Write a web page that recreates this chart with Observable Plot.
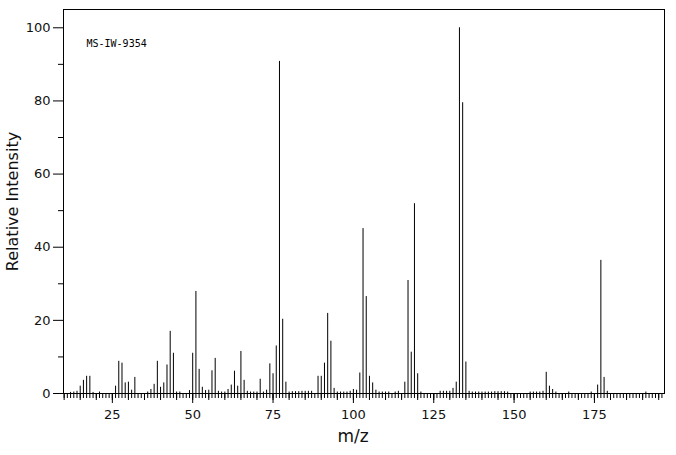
<!DOCTYPE html>
<html>
<head>
<meta charset="utf-8">
<script src="https://cdn.jsdelivr.net/npm/d3@7"></script>
<script src="https://cdn.jsdelivr.net/npm/@observablehq/plot@0.6"></script>
<style>
  html, body { margin: 0; padding: 0; background: #fff; }
</style>
</head>
<body>
<div id="chart"></div>
<script>
const sampleId = "MS-IW-9354";
const xLabel = "m/z";
const yLabel = "Relative Intensity";

const mzValues = [
  12, 13, 14, 15, 16, 17, 18, 19, 21, 26, 27, 28, 29, 30, 31, 32,
  36, 37, 38, 39, 40, 41, 42, 43, 44, 45, 46, 49, 50, 51, 52, 53, 54, 55,
  56, 57, 58, 59, 60, 61, 62, 63, 64, 65, 66, 67, 68, 69, 70, 71, 72, 73,
  74, 75, 76, 77, 78, 79, 80, 81, 82, 83, 84, 85, 86, 87, 89, 90, 91, 92,
  93, 94, 95, 96, 97, 98, 99, 100, 101, 102, 103, 104, 105, 106, 107, 108,
  109, 110, 111, 113, 114, 116, 117, 118, 119, 120, 121, 127, 128, 129, 130,
  131, 132, 133, 134, 135, 136, 137, 138, 139, 140, 141, 142, 143, 144, 145,
  146, 147, 148, 155, 156, 157, 158, 159, 160, 161, 162, 163, 167, 174, 176,
  177, 178, 179, 191
];
const intensityValues = [
  0.3, 0.4, 0.6, 2.0, 3.6, 4.7, 4.7, 0.3, 0.4, 2.0, 8.8, 8.3, 2.9, 3.1, 0.9, 4.4,
  0.4, 1.1, 2.5, 8.8, 1.7, 2.9, 7.8, 17.0, 11.0, 0.4, 0.4, 0.8, 11.0, 27.9, 6.6, 1.7, 0.8, 0.9,
  6.2, 9.6, 0.6, 0.4, 0.4, 1.1, 2.3, 6.1, 2.0, 11.5, 3.6, 0.6, 0.4, 0.4, 0.4, 3.9, 0.4, 0.9,
  8.1, 5.4, 13.0, 90.8, 20.3, 3.1, 0.4, 0.5, 0.5, 0.5, 0.6, 0.6, 0.6, 0.6, 4.7, 4.7, 8.3, 21.9,
  14.3, 1.4, 0.4, 0.4, 0.4, 0.4, 0.6, 1.1, 0.9, 5.6, 45.1, 26.5, 4.7, 2.9, 0.9, 0.4,
  0.4, 0.4, 0.4, 0.4, 0.6, 3.1, 30.9, 11.3, 51.9, 5.4, 0.4, 0.6, 0.6, 0.6, 0.6,
  1.4, 3.1, 100, 79.5, 8.6, 0.6, 0.4, 0.4, 0.4, 0.4, 0.4, 0.4, 0.4, 0.5, 0.5,
  0.5, 0.5, 0.4, 0.4, 0.4, 0.4, 0.4, 0.6, 5.8, 2.0, 1.1, 0.4, 0.4, 0.4, 2.3,
  36.4, 4.4, 0.6, 0.4
];

const xMajorTicks = [25, 50, 75, 100, 125, 150, 175];
const xMediumTicks = d3.range(10, 197, 5);
const xMinorTicks = d3.range(10, 197, 1);
const yMajorTicks = [0, 20, 40, 60, 80, 100];
const yMinorTicks = [10, 30, 50, 70, 90];

const peaks = mzValues.map((mz, i) => ({mz, intensity: intensityValues[i]}));

const font = "DejaVu Sans";

const chart = Plot.plot({
  width: 676,
  height: 455,
  marginLeft: 63,
  marginRight: 12,
  marginTop: 9,
  marginBottom: 62,
  style: {fontFamily: font, fontSize: "13px", color: "black", background: "white"},
  x: {domain: [9.8, 196.8]},
  y: {domain: [0, 105]},
  marks: [
    Plot.ruleX(peaks, {x: "mz", y1: 0, y2: "intensity", stroke: "black", strokeWidth: 1}),
    Plot.frame({stroke: "black"}),
    Plot.axisX({ticks: xMinorTicks, tickSize: 5, tickFormat: () => "", label: null}),
    Plot.axisX({ticks: xMediumTicks, tickSize: 7, tickFormat: () => "", label: null}),
    Plot.axisX({ticks: xMajorTicks, tickSize: 10, tickPadding: 6, label: null, fontSize: 13, fill: "#111"}),
    Plot.axisY({ticks: yMinorTicks, tickSize: 5, tickFormat: () => "", label: null}),
    Plot.axisY({ticks: yMajorTicks, tickSize: 10, tickPadding: 3, label: null, fontSize: 13, fill: "#111"}),
    Plot.text([xLabel], {frameAnchor: "bottom", textAnchor: "middle", dx: -11, dy: 48, fontSize: 17, fill: "#111"}),
    Plot.text([yLabel], {frameAnchor: "left", textAnchor: "middle", rotate: -90, dx: -51, fontSize: 16, fill: "#111"}),
    Plot.text([sampleId], {frameAnchor: "top-left", textAnchor: "start", dx: 23, dy: 30, fontSize: 10, fontFamily: "DejaVu Sans Mono", fill: "black"})
  ]
});
document.getElementById("chart").appendChild(chart);
</script>
</body>
</html>
